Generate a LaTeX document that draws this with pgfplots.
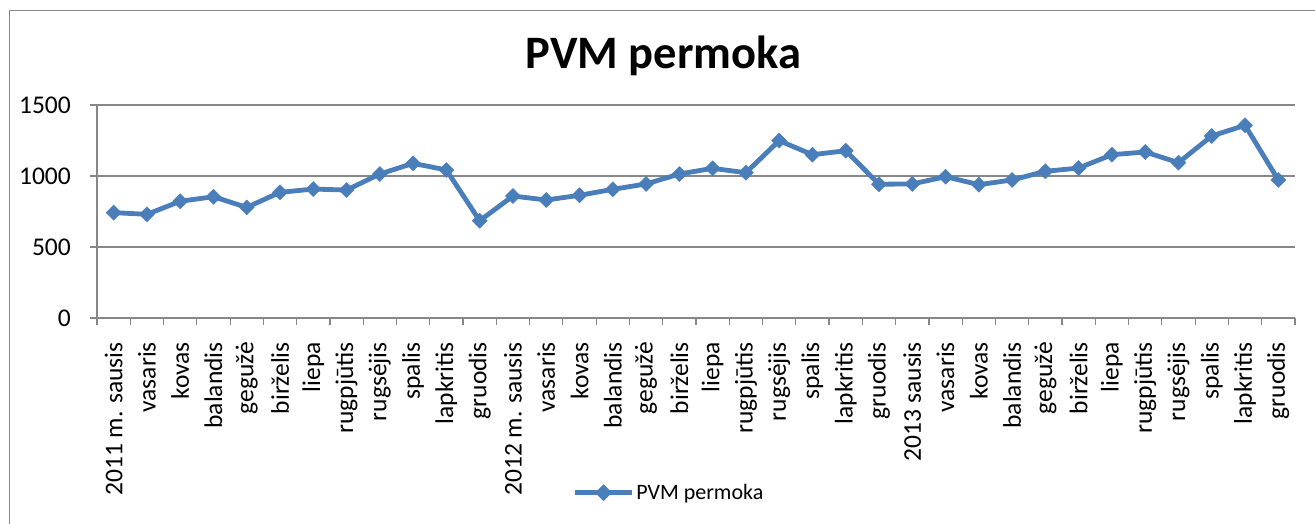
\documentclass[border=0pt]{standalone}
\usepackage{fontspec}
\setmainfont{Carlito}
\usepackage{pgfplots}
\pgfplotsset{compat=1.18}
\definecolor{exblue}{HTML}{4A7EBB}
\definecolor{exgray}{HTML}{878787}
\pgfplotstableread{
x y
1 742
2 730
3 822
4 854
5 779
6 885
7 908
8 901
9 1014
10 1089
11 1042
12 685
13 859
14 831
15 864
16 906
17 944
18 1014
19 1054
20 1023
21 1249
22 1150
23 1178
24 942
25 944
26 995
27 939
28 972
29 1033
30 1056
31 1150
32 1169
33 1094
34 1282
35 1357
36 972
}\datatable
\begin{document}
\begin{tikzpicture}[x=1pt,y=1pt]
\useasboundingbox (0,0) rectangle (1315,524);
\draw[exgray, line width=1.2pt] (9.5,-5) -- (9.5,513.5) -- (1320,513.5);
\begin{axis}[
  at={(97pt,206pt)}, anchor=south west,
  scale only axis, width=1198pt, height=213pt,
  xmin=0.5, xmax=36.5, ymin=0, ymax=1500,
  axis lines=left,
  axis line style={-, exgray, line width=1.2pt},
  ytick={0,500,1000,1500},
  ymajorgrids, major grid style={exgray, line width=1.2pt},
  tick align=outside,
  major tick length=7pt, minor tick length=7pt,
  tick style={exgray, line width=1.2pt},
  xtick={1,...,36},
  minor xtick={0.5,1.5,...,36.5},
  major x tick style={draw=none},
  xticklabels={2011 m. sausis, vasaris, kovas, balandis, gegužė, birželis, liepa, rugpjūtis, rugsėjis, spalis, lapkritis, gruodis, 2012 m. sausis, vasaris, kovas, balandis, gegužė, birželis, liepa, rugpjūtis, rugsėjis, spalis, lapkritis, gruodis, 2013 sausis, vasaris, kovas, balandis, gegužė, birželis, liepa, rugpjūtis, rugsėjis, spalis, lapkritis, gruodis},
  xticklabel style={yshift=-17pt, rotate=90, anchor=east, inner sep=0pt, font=\fontsize{25.5}{30}\selectfont},
  yticklabel style={anchor=east, inner sep=0pt, xshift=-19pt, font=\fontsize{25.5}{30}\selectfont},
  /pgf/number format/assume math mode=true,
  /pgf/number format/1000 sep={},
  scaled y ticks=false,
  title={PVM permoka},
  title style={at={(0.473,1)}, anchor=base, yshift=30pt, font=\fontsize{46.5}{54}\selectfont\bfseries},
  legend style={at={(0.397,-0.82)}, anchor=west, draw=none, fill=none, inner sep=0pt, font=\fontsize{22}{26}\selectfont},
  legend image code/.code={
    \draw[exblue, line width=4.5pt] (0pt,0pt) -- (57pt,0pt);
    \fill[exblue] (28.5pt,5pt) -- (33.5pt,0pt) -- (28.5pt,-5pt) -- (23.5pt,0pt) -- cycle;
  },
  clip=false,
]
\addplot[exblue, line width=4.8pt, mark=square*, mark size=5.3pt, mark options={rotate=45, line width=0.5pt, fill=exblue}] table[x=x,y=y] {\datatable};
\addlegendentry{PVM permoka}
\end{axis}
\end{tikzpicture}
\end{document}
